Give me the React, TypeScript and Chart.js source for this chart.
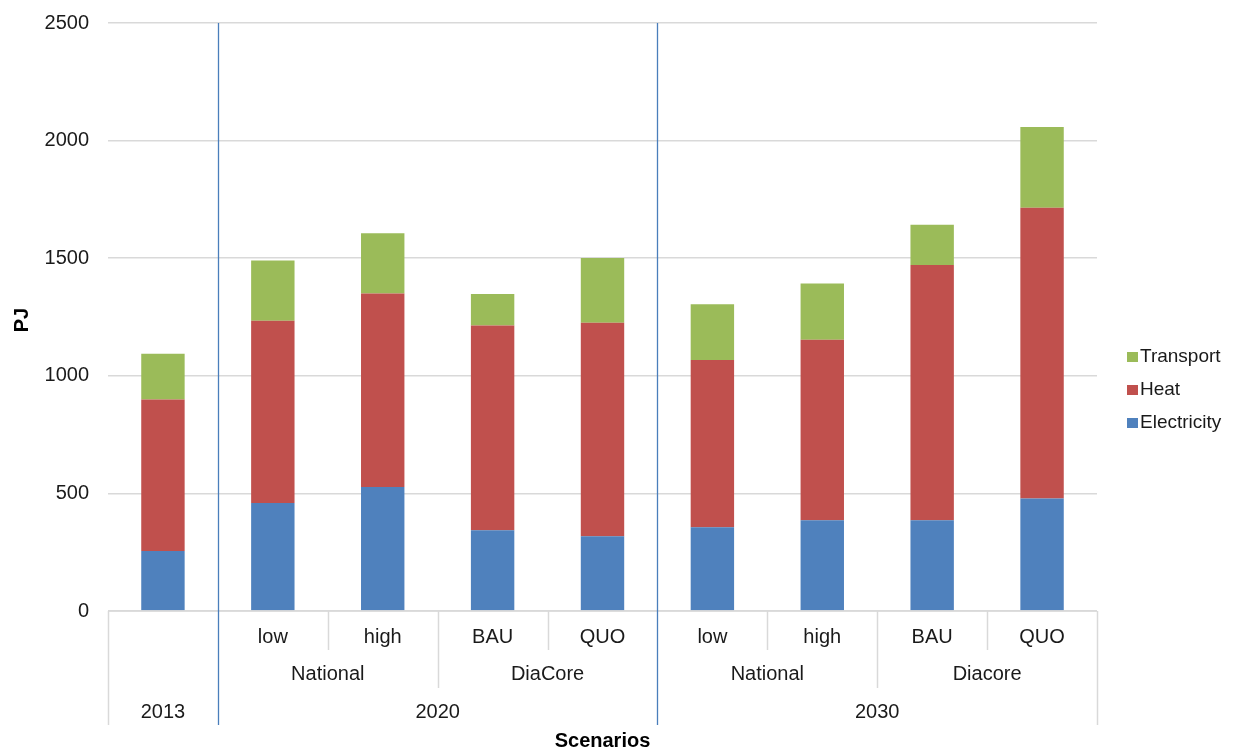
import React, { useEffect, useRef } from "react";
import { Chart, registerables } from "chart.js";

Chart.register(...registerables);

const categories = ["2013", "2020 National low", "2020 National high", "2020 DiaCore BAU", "2020 DiaCore QUO", "2030 National low", "2030 National high", "2030 Diacore BAU", "2030 Diacore QUO"];
const level1Labels = ["", "low", "high", "BAU", "QUO", "low", "high", "BAU", "QUO"];
const level2Groups = [
  { label: "National", from: 1, to: 2 },
  { label: "DiaCore", from: 3, to: 4 },
  { label: "National", from: 5, to: 6 },
  { label: "Diacore", from: 7, to: 8 },
];
const level3Groups = [
  { label: "2013", from: 0, to: 0 },
  { label: "2020", from: 1, to: 4 },
  { label: "2030", from: 5, to: 8 },
];
const electricity = [255, 459, 527, 343, 318, 356, 386, 386, 478];
const heat = [644, 775, 823, 871, 908, 711, 767, 1085, 1236];
const transport = [195, 256, 256, 134, 275, 237, 239, 171, 344];
const seriesNames = ["Electricity", "Heat", "Transport"];
const seriesColors = ["#4f81bd", "#c0504d", "#9bbb59"];
const yTicks = { min: 0, max: 2500, step: 500 };

const FONT = '"Liberation Sans", Arial, sans-serif';
const TEXT = "#1a1a1a";
const GRID = "#d9d9d9";
const SEP = "#4a7ebb";

const decorPlugin = {
  id: "decor",
  afterDraw(chart: any) {
    const ctx = chart.ctx;
    const x = chart.scales.x;
    const area = chart.chartArea;
    const n = categories.length;
    const half = (x.getPixelForValue(1) - x.getPixelForValue(0)) / 2;
    const boundary = (i: number) => (i < n ? x.getPixelForValue(i) - half : x.getPixelForValue(n - 1) + half);
    const bottom = area.bottom;
    const row1 = bottom + 39;
    const row2 = bottom + 77;
    const row3 = bottom + 114;

    ctx.save();
    // axis line
    ctx.strokeStyle = GRID;
    ctx.lineWidth = 1.5;
    ctx.beginPath();
    ctx.moveTo(boundary(0), bottom);
    ctx.lineTo(boundary(n), bottom);
    ctx.stroke();

    const level2B = [3, 7];
    const level3B = [0, 1, 5, 9];
    for (let i = 0; i <= n; i++) {
      const bx = Math.round(boundary(i)) + 0.5;
      let end = row1;
      if (level2B.includes(i)) end = row2;
      if (level3B.includes(i)) end = row3;
      if (i === 1 || i === 5) {
        ctx.strokeStyle = SEP;
        ctx.lineWidth = 1.3;
        ctx.beginPath();
        ctx.moveTo(bx, area.top);
        ctx.lineTo(bx, end);
        ctx.stroke();
      } else {
        ctx.strokeStyle = GRID;
        ctx.lineWidth = 1.5;
        ctx.beginPath();
        ctx.moveTo(bx, bottom);
        ctx.lineTo(bx, end);
        ctx.stroke();
      }
    }

    ctx.fillStyle = TEXT;
    ctx.font = `20px ${FONT}`;
    ctx.textAlign = "center";
    ctx.textBaseline = "middle";
    level1Labels.forEach((l, i) => {
      if (l) ctx.fillText(l, x.getPixelForValue(i), bottom + 26);
    });
    level2Groups.forEach((g) => {
      const cx = (boundary(g.from) + boundary(g.to + 1)) / 2;
      ctx.fillText(g.label, cx, bottom + 63);
    });
    level3Groups.forEach((g) => {
      const cx = (boundary(g.from) + boundary(g.to + 1)) / 2;
      ctx.fillText(g.label, cx, bottom + 101);
    });

    // axis titles
    ctx.font = `bold 20px ${FONT}`;
    ctx.fillStyle = "#000000";
    ctx.fillText("Scenarios", (area.left + area.right) / 2, bottom + 130);
    ctx.save();
    ctx.translate(22, 320);
    ctx.rotate(-Math.PI / 2);
    ctx.fillText("PJ", 0, 0);
    ctx.restore();

    // legend
    ctx.font = `19px ${FONT}`;
    ctx.textAlign = "left";
    const order = [2, 1, 0];
    order.forEach((s, k) => {
      const cy = 357 + k * 33;
      ctx.fillStyle = seriesColors[s];
      ctx.fillRect(1127, cy - 5, 11, 10);
      ctx.fillStyle = TEXT;
      ctx.fillText(seriesNames[s], 1140, cy);
    });
    ctx.restore();
  },
};

export default function App() {
  const ref = useRef<HTMLCanvasElement>(null);
  useEffect(() => {
    if (!ref.current) return;
    const chart = new Chart(ref.current, {
      type: "bar",
      data: {
        labels: categories,
        datasets: [electricity, heat, transport].map((d, i) => ({
          label: seriesNames[i],
          data: d,
          backgroundColor: seriesColors[i],
          borderWidth: 0,
          barPercentage: 0.395,
          categoryPercentage: 1,
        })),
      },
      options: {
        animation: false,
        responsive: true,
        maintainAspectRatio: false,
        layout: { padding: { left: 0, right: 137, top: 23, bottom: 140 } },
        plugins: { legend: { display: false }, tooltip: { enabled: false } },
        scales: {
          x: { stacked: true, display: false, offset: true },
          y: {
            stacked: true,
            min: yTicks.min,
            max: yTicks.max,
            ticks: {
              stepSize: yTicks.step,
              padding: 19,
              color: TEXT,
              font: { size: 20, family: FONT },
              callback: (v: any) => String(v),
            },
            grid: { color: GRID, lineWidth: 1.5, drawTicks: false },
            border: { display: false },
            afterFit: (s: any) => {
              s.width = 108;
              s.paddingTop = 0;
              s.paddingBottom = 0;
            },
          },
        },
      },
      plugins: [decorPlugin],
    });
    return () => chart.destroy();
  }, []);
  return (
    <div style={{ position: "absolute", left: 0, top: 0, width: 1234, height: 751, background: "#fff" }}>
      <canvas ref={ref} />
    </div>
  );
}
